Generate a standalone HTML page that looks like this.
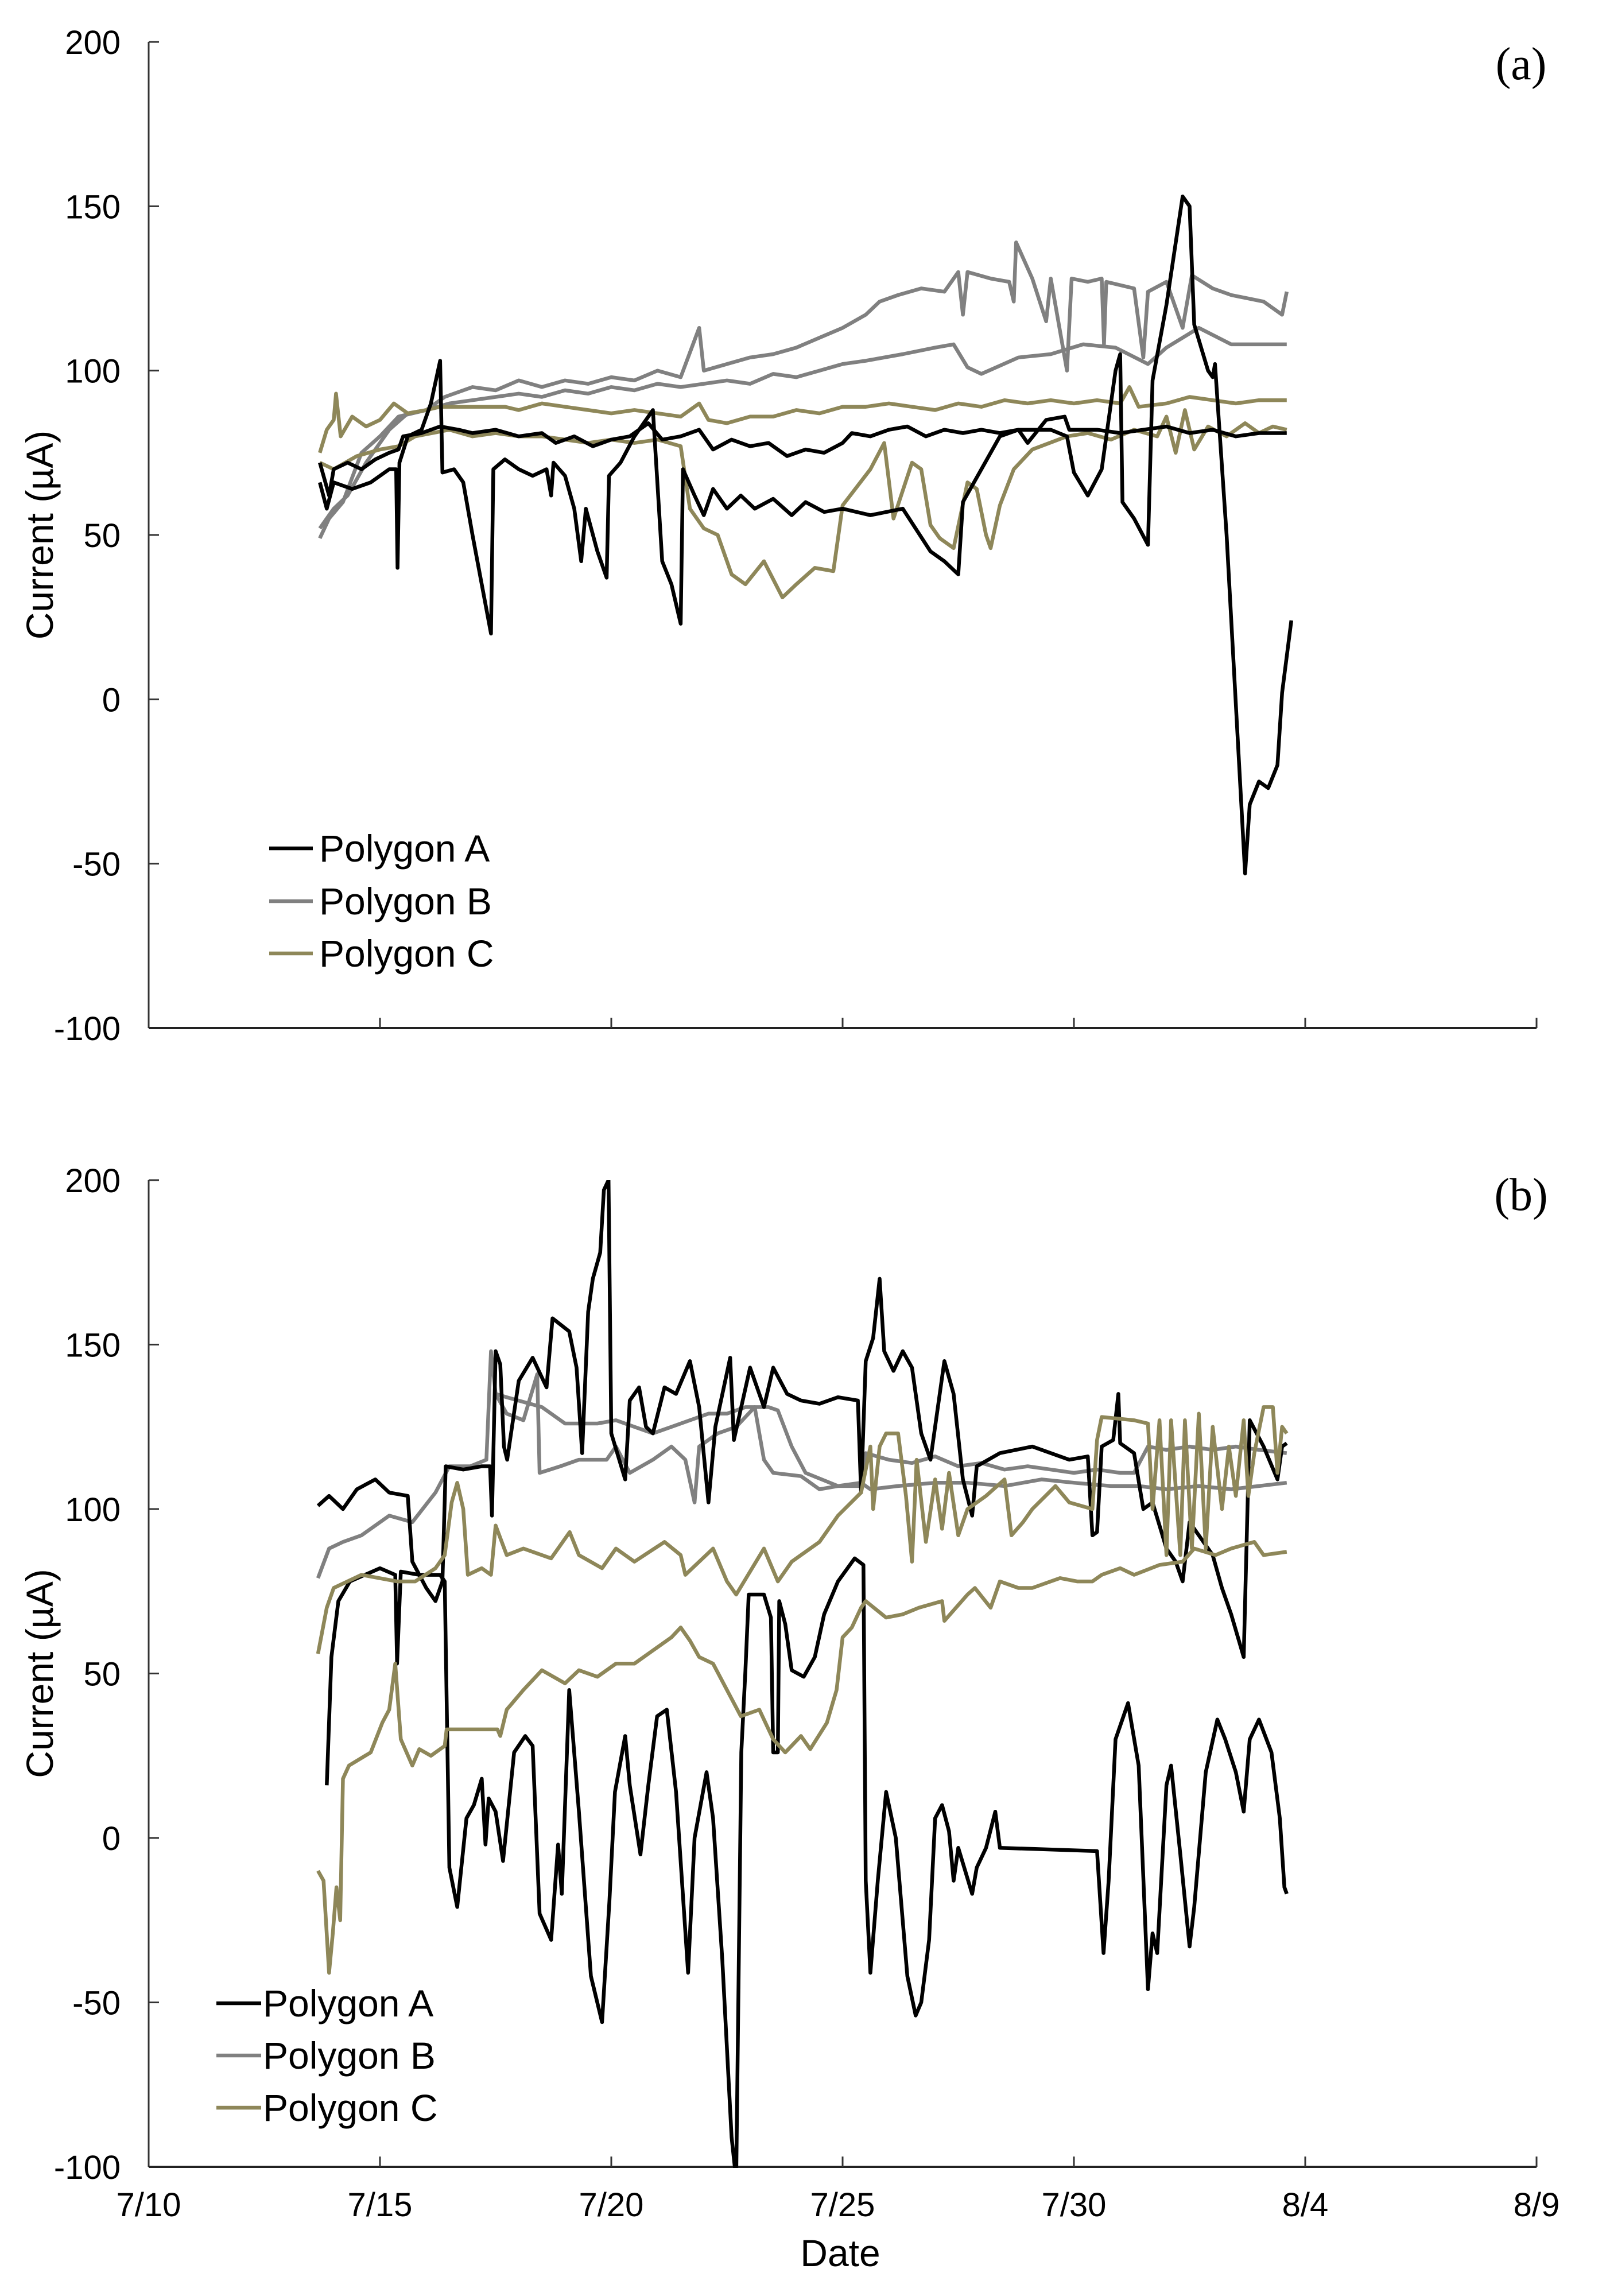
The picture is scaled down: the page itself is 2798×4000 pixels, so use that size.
<!DOCTYPE html>
<html><head><meta charset="utf-8"><style>
html,body{margin:0;padding:0;background:#fff;}
svg{display:block;}
text{font-family:"Liberation Sans",Arial,sans-serif;fill:#000;}
</style></head>
<body>
<svg id="chart" width="2798" height="4000" viewBox="0 0 2798 4000" xmlns="http://www.w3.org/2000/svg"></svg>
<script>
// ---- data (day = days since 7/10, value = current in µA) ----
const xTickLabels = ["7/10","7/15","7/20","7/25","7/30","8/4","8/9"];
const xTickDays = [0,5,10,15,20,25,30];
const yTickValues = [200,150,100,50,0,-50,-100];
const seriesNames = ["Polygon A","Polygon B","Polygon C"];

const a_A1 = [[3.7,72],[3.9,62],[4.0,70],[4.3,72],[4.6,70],[4.9,73],[5.2,75],[5.4,76],[5.5,80],[5.9,81],[6.3,83],[6.7,82],[7.0,81],[7.5,82],[8.0,80],[8.5,81],[8.8,78],[9.2,80],[9.6,77],[10.0,79],[10.4,80],[10.8,84],[11.1,79],[11.5,80],[11.9,82],[12.2,76],[12.6,79],[13.0,77],[13.4,78],[13.8,74],[14.2,76],[14.6,75],[15.0,78],[15.2,81],[15.6,80],[16.0,82],[16.4,83],[16.8,80],[17.2,82],[17.6,81],[18.0,82],[18.4,81],[18.8,82],[19.0,78],[19.4,85],[19.8,86],[19.9,82],[20.5,82],[21.0,81],[21.5,82],[22.0,83],[22.5,81],[23.0,82],[23.5,80],[24.0,81],[24.6,81]];
const a_A2 = [[3.7,66],[3.85,58],[4.0,66],[4.4,64],[4.8,66],[5.2,70],[5.35,70],[5.38,40],[5.42,72],[5.6,80],[5.9,82],[6.1,90],[6.3,103],[6.35,69],[6.6,70],[6.8,66],[7.0,50],[7.2,35],[7.4,20],[7.45,70],[7.7,73],[8.0,70],[8.3,68],[8.6,70],[8.7,62],[8.75,72],[9.0,68],[9.2,58],[9.35,42],[9.45,58],[9.7,45],[9.9,37],[9.95,68],[10.2,72],[10.5,80],[10.9,88],[11.1,42],[11.3,35],[11.5,23],[11.55,70],[11.8,62],[12.0,56],[12.2,64],[12.5,58],[12.8,62],[13.1,58],[13.5,61],[13.9,56],[14.2,60],[14.6,57],[15.0,58],[15.6,56],[16.3,58],[16.9,45],[17.2,42],[17.5,38],[17.6,60],[18.0,70],[18.4,80],[18.8,82],[19.5,82],[19.85,80],[20.0,69],[20.3,62],[20.6,70],[20.9,100],[21.0,105],[21.05,60],[21.3,55],[21.6,47],[21.7,97],[22.0,120],[22.35,153],[22.5,150],[22.6,114],[22.9,100],[23.0,98],[23.05,102],[23.3,50],[23.7,-53],[23.8,-32],[24.0,-25],[24.2,-27],[24.4,-20],[24.5,2],[24.7,24]];
const a_B1 = [[3.7,49],[3.9,55],[4.2,60],[4.6,75],[5.0,80],[5.4,86],[6.0,88],[6.4,92],[7.0,95],[7.5,94],[8.0,97],[8.5,95],[9.0,97],[9.5,96],[10.0,98],[10.5,97],[11.0,100],[11.5,98],[11.9,113],[12.0,100],[12.5,102],[13.0,104],[13.5,105],[14.0,107],[14.5,110],[15.0,113],[15.5,117],[15.8,121],[16.2,123],[16.7,125],[17.2,124],[17.5,130],[17.6,117],[17.7,130],[18.2,128],[18.6,127],[18.7,121],[18.75,139],[19.1,128],[19.4,115],[19.5,128],[19.85,100],[19.95,128],[20.3,127],[20.6,128],[20.65,108],[20.7,127],[21.3,125],[21.5,104],[21.6,124],[22.0,127],[22.35,113],[22.55,129],[23.0,125],[23.4,123],[24.1,121],[24.5,117],[24.6,124]];
const a_B2 = [[3.7,52],[4.0,58],[4.3,62],[4.7,72],[5.2,82],[5.6,87],[6.0,88],[6.5,90],[7.0,91],[7.5,92],[8.0,93],[8.5,92],[9.0,94],[9.5,93],[10.0,95],[10.5,94],[11.0,96],[11.5,95],[12.0,96],[12.5,97],[13.0,96],[13.5,99],[14.0,98],[14.5,100],[15.0,102],[15.5,103],[16.3,105],[17.0,107],[17.4,108],[17.7,101],[18.0,99],[18.8,104],[19.5,105],[20.2,108],[20.9,107],[21.6,102],[22.0,107],[22.7,113],[23.4,108],[24.0,108],[24.6,108]];
const a_C1 = [[3.7,75],[3.85,82],[4.0,85],[4.05,93],[4.15,80],[4.4,86],[4.7,83],[5.0,85],[5.3,90],[5.6,87],[6.0,88],[6.3,89],[7.7,89],[8.0,88],[8.5,90],[9.0,89],[9.5,88],[10.0,87],[10.5,88],[11.0,87],[11.5,86],[11.9,90],[12.1,85],[12.5,84],[13.0,86],[13.5,86],[14.0,88],[14.5,87],[15.0,89],[15.5,89],[16.0,90],[16.5,89],[17.0,88],[17.5,90],[18.0,89],[18.5,91],[19.0,90],[19.5,91],[20.0,90],[20.5,91],[21.0,90],[21.2,95],[21.4,89],[22.0,90],[22.5,92],[23.0,91],[23.5,90],[24.0,91],[24.6,91]];
const a_C2 = [[3.7,72],[4.0,70],[4.5,74],[5.0,76],[5.4,77],[5.76,80],[6.5,82],[7.0,80],[7.5,81],[8.0,80],[8.5,80],[9.0,79],[9.5,78],[10.0,79],[10.5,78],[11.0,79],[11.5,77],[11.7,58],[12.0,52],[12.3,50],[12.6,38],[12.9,35],[13.3,42],[13.7,31],[14.0,35],[14.4,40],[14.8,39],[15.0,59],[15.6,70],[15.9,78],[16.1,55],[16.5,72],[16.7,70],[16.9,53],[17.1,49],[17.4,46],[17.7,66],[17.9,64],[18.1,50],[18.2,46],[18.4,59],[18.7,70],[19.1,76],[19.85,80],[20.3,81],[20.8,79],[21.3,82],[21.8,80],[22.0,86],[22.2,75],[22.4,88],[22.6,76],[22.9,83],[23.3,80],[23.7,84],[24.0,81],[24.3,83],[24.6,82]];

const b_A1 = [[3.66,101],[3.9,104],[4.2,100],[4.5,106],[4.9,109],[5.2,105],[5.6,104],[5.7,84],[6.0,76],[6.2,72],[6.35,78],[6.42,113],[6.8,112],[7.2,113],[7.38,113],[7.42,98],[7.5,148],[7.6,144],[7.68,119],[7.75,115],[8.0,139],[8.3,146],[8.6,137],[8.73,158],[9.09,154],[9.25,143],[9.37,117],[9.5,160],[9.6,170],[9.76,178],[9.84,197],[9.94,200],[10.0,123],[10.3,109],[10.4,133],[10.6,137],[10.75,125],[10.9,123],[11.15,137],[11.4,135],[11.7,145],[11.9,131],[12.1,102],[12.25,125],[12.57,146],[12.65,121],[13.0,143],[13.3,131],[13.5,143],[13.8,135],[14.1,133],[14.5,132],[14.9,134],[15.33,133],[15.4,105],[15.5,145],[15.66,152],[15.8,170],[15.9,148],[16.1,142],[16.3,148],[16.5,143],[16.7,123],[16.9,115],[17.08,133],[17.2,145],[17.4,135],[17.6,109],[17.8,98],[17.9,113],[18.4,117],[19.1,119],[19.9,115],[20.3,116],[20.4,92],[20.5,93],[20.6,119],[20.85,121],[20.96,135],[21.0,120],[21.3,117],[21.5,100],[21.7,102],[22.0,88],[22.2,84],[22.35,78],[22.5,96],[22.7,92],[23.0,86],[23.2,76],[23.4,68],[23.67,55],[23.8,127],[23.95,123],[24.1,119],[24.4,109],[24.5,119],[24.6,120]];
const b_A2 = [[3.85,16],[3.95,55],[4.1,72],[4.35,78],[5.0,82],[5.33,80],[5.37,53],[5.45,81],[5.84,80],[6.3,80],[6.4,78],[6.5,-9],[6.67,-21],[6.87,6],[7.03,10],[7.2,18],[7.28,-2],[7.35,12],[7.5,8],[7.66,-7],[7.9,26],[8.14,31],[8.3,28],[8.45,-23],[8.7,-31],[8.85,-2],[8.93,-17],[9.09,45],[9.3,8],[9.56,-42],[9.8,-56],[9.96,-19],[10.08,14],[10.3,31],[10.4,16],[10.63,-5],[10.8,16],[10.99,37],[11.2,39],[11.4,14],[11.66,-41],[11.8,0],[12.06,20],[12.2,6],[12.4,-37],[12.6,-91],[12.7,-104],[12.81,26],[12.9,51],[12.97,74],[13.3,74],[13.45,67],[13.5,26],[13.6,26],[13.63,72],[13.76,65],[13.9,51],[14.16,49],[14.4,55],[14.6,68],[14.9,78],[15.26,85],[15.45,83],[15.5,-13],[15.6,-41],[15.76,-13],[15.94,14],[16.15,0],[16.4,-42],[16.58,-54],[16.7,-50],[16.87,-31],[17.0,6],[17.15,10],[17.3,2],[17.4,-13],[17.5,-3],[17.8,-17],[17.9,-9],[18.1,-3],[18.3,8],[18.4,-3],[20.5,-4],[20.64,-35],[20.75,-13],[20.9,30],[21.17,41],[21.4,22],[21.6,-46],[21.7,-29],[21.8,-35],[22.0,16],[22.1,22],[22.3,-5],[22.5,-33],[22.6,-21],[22.85,20],[23.1,36],[23.27,30],[23.5,20],[23.67,8],[23.8,30],[24.0,36],[24.27,26],[24.45,6],[24.55,-15],[24.6,-17]];
const b_B1 = [[3.66,79],[3.9,88],[4.2,90],[4.6,92],[5.2,98],[5.7,96],[6.2,105],[6.5,113],[6.95,113],[7.3,115],[7.4,148],[7.5,135],[7.74,134],[8.5,131],[9.0,126],[9.7,126],[10.1,127],[10.5,125],[10.9,123],[11.3,125],[11.7,127],[12.1,129],[12.5,129],[12.9,131],[13.4,131],[13.6,130],[13.9,119],[14.2,111],[14.9,107],[15.4,107],[15.5,117],[16.0,115],[16.5,114],[17.0,116],[17.5,113],[18.0,114],[18.5,112],[19.0,113],[19.5,112],[20.0,111],[20.5,112],[21.0,111],[21.3,111],[21.6,119],[22.0,118],[22.5,119],[23.0,118],[23.5,119],[24.0,118],[24.6,117]];
const b_B2 = [[7.5,135],[7.74,129],[8.1,127],[8.4,141],[8.45,111],[8.9,113],[9.3,115],[9.9,115],[10.1,119],[10.4,111],[10.9,115],[11.3,119],[11.6,115],[11.8,102],[11.9,119],[12.3,123],[12.7,125],[13.1,131],[13.3,115],[13.5,111],[14.1,110],[14.5,106],[14.9,107],[15.4,108],[15.6,106],[16.2,107],[17.0,108],[17.7,108],[18.5,107],[19.3,109],[20.0,108],[20.8,107],[21.4,107],[22.0,106],[22.7,107],[23.4,106],[24.0,107],[24.6,108]];
const b_C1 = [[3.66,56],[3.85,70],[4.0,76],[4.6,80],[5.37,78],[5.76,78],[6.2,82],[6.4,86],[6.55,102],[6.67,108],[6.8,100],[6.9,80],[7.2,82],[7.4,80],[7.5,95],[7.74,86],[8.1,88],[8.7,85],[9.1,93],[9.3,86],[9.8,82],[10.1,88],[10.5,84],[11.15,90],[11.5,86],[11.6,80],[12.2,88],[12.5,78],[12.7,74],[13.3,88],[13.6,78],[13.9,84],[14.5,90],[14.9,98],[15.4,105],[15.6,119],[15.66,100],[15.8,119],[15.94,123],[16.2,123],[16.37,104],[16.5,84],[16.6,115],[16.8,90],[17.0,109],[17.15,94],[17.3,111],[17.5,92],[17.7,100],[18.1,104],[18.5,109],[18.65,92],[18.9,96],[19.1,100],[19.6,107],[19.9,102],[20.4,100],[20.5,121],[20.6,128],[21.3,127],[21.6,126],[21.7,100],[21.85,127],[22.0,86],[22.1,127],[22.3,86],[22.4,127],[22.55,88],[22.7,129],[22.85,88],[23.0,125],[23.2,100],[23.35,119],[23.5,104],[23.67,127],[23.77,104],[23.9,117],[24.1,131],[24.3,131],[24.4,111],[24.5,125],[24.6,123]];
const b_C2 = [[3.66,-10],[3.78,-13],[3.9,-41],[3.98,-29],[4.06,-15],[4.14,-25],[4.2,18],[4.33,22],[4.8,26],[5.05,35],[5.2,39],[5.33,53],[5.45,30],[5.7,22],[5.85,27],[6.1,25],[6.4,28],[6.44,33],[7.54,33],[7.6,31],[7.74,39],[8.1,45],[8.5,51],[9.0,47],[9.3,51],[9.7,49],[10.1,53],[10.5,53],[10.9,57],[11.3,61],[11.5,64],[11.7,60],[11.9,55],[12.2,53],[12.5,45],[12.8,37],[13.2,39],[13.5,30],[13.76,26],[14.1,31],[14.3,27],[14.66,35],[14.87,45],[15.0,61],[15.2,64],[15.4,70],[15.5,72],[15.94,67],[16.3,68],[16.65,70],[17.15,72],[17.2,66],[17.7,74],[17.86,76],[18.2,70],[18.4,78],[18.8,76],[19.1,76],[19.7,79],[20.07,78],[20.4,78],[20.6,80],[21.0,82],[21.3,80],[21.85,83],[22.35,84],[22.6,88],[23.06,86],[23.4,88],[23.9,90],[24.1,86],[24.6,87]];

const NS = "http://www.w3.org/2000/svg";
const svg = document.getElementById("chart");
const COLORS = {A:"#000000", B:"#808080", C:"#8e8759"};
const X0 = 259, X1 = 2677, DMAX = 30;
function xScale(d){ return X0 + d*(X1-X0)/DMAX; }
function mk(tag, attrs, parent){ const e=document.createElementNS(NS,tag); for(const k in attrs) e.setAttribute(k,attrs[k]); (parent||svg).appendChild(e); return e; }

function panel(id, top, bottom, seriesList, legend, letter, showXLabels){
  const g = mk("g",{});
  
  
  const yScale = v => bottom - (v+100)*(bottom-top)/300;
  const cp = mk("clipPath",{id:"clip-"+id}, g);
  mk("rect",{x:X0,y:top,width:X1-X0,height:bottom-top+2},cp);
  const yAxis = mk("line",{x1:X0,y1:top,x2:X0,y2:bottom,stroke:"#333","stroke-width":3},g);
  
  
  yTickValues.forEach(v=>{
    const y=yScale(v);
    const t=mk("line",{x1:X0,y1:y,x2:X0+18,y2:y,stroke:"#333","stroke-width":3},g);
    
    
    const l=mk("text",{x:210,y:y+21,"text-anchor":"end","font-size":58},g);
    l.textContent=v;
    
    
  });
  const yt = mk("text",{x:0,y:0,"text-anchor":"middle","font-size":66,transform:"translate(92,"+((top+bottom)/2)+") rotate(-90)"},g);
  yt.textContent="Current (µA)";
  
  
  const xAxis = mk("line",{x1:X0,y1:bottom,x2:X1,y2:bottom,stroke:"#222","stroke-width":4},g);
  
  
  xTickDays.forEach((d,i)=>{
    const x=xScale(d);
    if(i>0){
      const t=mk("line",{x1:x,y1:bottom,x2:x,y2:bottom-18,stroke:"#333","stroke-width":3},g);
      
      
    }
    if(showXLabels){
      const l=mk("text",{x:x,y:bottom+86,"text-anchor":"middle","font-size":58},g);
      l.textContent=xTickLabels[i];
      
      
    }
  });
  const sg = mk("g",{"clip-path":"url(#clip-"+id+")"},g);
  seriesList.forEach(s=>{
    const p = mk("path",{d:s.data.map((pt,i)=>(i?"L":"M")+xScale(pt[0]).toFixed(1)+" "+yScale(pt[1]).toFixed(1)).join(""),fill:"none",stroke:COLORS[s.poly],"stroke-width":6.5,"stroke-linejoin":"round"},sg);
    
    
  });
  ["A","B","C"].forEach((k,i)=>{
    const y=legend.y[i];
    const ln=mk("line",{x1:legend.x1,y1:y,x2:legend.x2,y2:y,stroke:COLORS[k],"stroke-width":6.5},g);
    
    
    const tx=mk("text",{x:legend.tx,y:y+23,"font-size":66},g);
    tx.textContent=seriesNames[i];
    
    
  });
  const pl = mk("text",{x:2650,y:letter,"text-anchor":"middle",style:"font-family:'Liberation Serif',serif;font-size:80px"},g);
  pl.textContent="("+id+")";
  
  
}

panel("a",73,1791,[
  {poly:"B",k:1,data:a_B1},{poly:"B",k:2,data:a_B2},
  {poly:"C",k:1,data:a_C1},{poly:"C",k:2,data:a_C2},
  {poly:"A",k:1,data:a_A1},{poly:"A",k:2,data:a_A2}
],{x1:469,x2:545,tx:556,y:[1478,1570,1661]},138,false);

panel("b",2056,3775,[
  {poly:"B",k:1,data:b_B1},{poly:"B",k:2,data:b_B2},
  {poly:"A",k:1,data:b_A1},{poly:"A",k:2,data:b_A2},
  {poly:"C",k:1,data:b_C1},{poly:"C",k:2,data:b_C2}
],{x1:377,x2:455,tx:458,y:[3490,3581,3672]},2108,true);

const dt = mk("text",{x:1464,y:3948,"text-anchor":"middle","font-size":66});
dt.textContent="Date";


</script>
</body></html>
